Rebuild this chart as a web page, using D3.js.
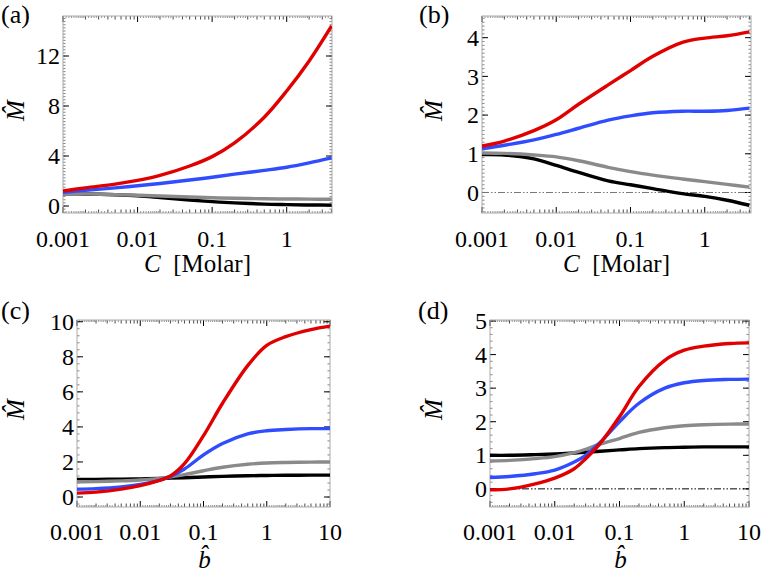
<!DOCTYPE html>
<html>
<head>
<meta charset="utf-8">
<script src="https://cdn.jsdelivr.net/npm/d3@7"></script>
<style>
  body { margin: 0; background: #fff; }
  svg { display: block; }
</style>
</head>
<body>
<div id="chart"></div>
<script>
// x values (log scale)
const xMolar = [0.001, 0.002, 0.005, 0.01, 0.02, 0.05, 0.1, 0.2, 0.5, 1, 2, 4];
const xB = [0.001, 0.002, 0.005, 0.01, 0.02, 0.03, 0.05, 0.1, 0.2, 0.5, 1, 2, 5, 10];

// panel (a)
const aRed   = [1.2, 1.45, 1.75, 2.05, 2.45, 3.2, 3.95, 5.05, 7.1, 9.2, 11.6, 14.4];
const aBlue  = [1.1, 1.25, 1.45, 1.62, 1.8, 2.08, 2.3, 2.55, 2.85, 3.1, 3.45, 3.85];
const aGray  = [1.0, 0.97, 0.91, 0.86, 0.8, 0.72, 0.66, 0.62, 0.58, 0.56, 0.55, 0.54];
const aBlack = [0.98, 0.96, 0.9, 0.82, 0.68, 0.48, 0.35, 0.25, 0.15, 0.11, 0.08, 0.07];

// panel (b)
const bRed   = [1.2, 1.33, 1.6, 1.88, 2.28, 2.78, 3.15, 3.52, 3.88, 3.99, 4.05, 4.15];
const bBlue  = [1.13, 1.22, 1.36, 1.5, 1.66, 1.87, 1.98, 2.06, 2.1, 2.1, 2.12, 2.18];
const bGray  = [1.02, 1.01, 0.97, 0.92, 0.82, 0.65, 0.54, 0.45, 0.35, 0.28, 0.21, 0.14];
const bBlack = [0.98, 0.97, 0.87, 0.7, 0.52, 0.3, 0.2, 0.1, -0.03, -0.1, -0.2, -0.33];

// panel (c)
const cRed   = [0.22, 0.28, 0.45, 0.65, 0.95, 1.2, 1.9, 3.5, 5.35, 7.5, 8.65, 9.15, 9.55, 9.75];
const cBlue  = [0.45, 0.48, 0.58, 0.72, 0.95, 1.18, 1.6, 2.4, 3.05, 3.6, 3.78, 3.85, 3.9, 3.9];
const cGray  = [0.87, 0.88, 0.92, 0.97, 1.06, 1.15, 1.28, 1.5, 1.7, 1.87, 1.94, 1.97, 1.99, 2.0];
const cBlack = [1.0, 1.0, 1.02, 1.03, 1.06, 1.08, 1.1, 1.14, 1.18, 1.21, 1.23, 1.24, 1.25, 1.25];

// panel (d)
const dRed   = [-0.03, 0.0, 0.15, 0.32, 0.6, 0.9, 1.35, 2.15, 3.05, 3.83, 4.13, 4.25, 4.33, 4.35];
const dBlue  = [0.34, 0.37, 0.45, 0.56, 0.8, 1.0, 1.38, 2.0, 2.55, 3.0, 3.16, 3.23, 3.26, 3.27];
const dGray  = [0.83, 0.85, 0.9, 0.96, 1.08, 1.18, 1.33, 1.5, 1.68, 1.82, 1.88, 1.91, 1.93, 1.93];
const dBlack = [1.0, 1.0, 1.02, 1.04, 1.07, 1.09, 1.12, 1.16, 1.2, 1.23, 1.24, 1.25, 1.25, 1.25];

// ticks
const xTicksMolar = [0.001, 0.01, 0.1, 1];
const xTicksB = [0.001, 0.01, 0.1, 1, 10];
const xTickLabels = ["0.001", "0.01", "0.1", "1", "10"];
const yTicksA = [0, 4, 8, 12];
const yTicksB = [0, 1, 2, 3, 4];
const yTicksC = [0, 2, 4, 6, 8, 10];
const yTicksD = [0, 1, 2, 3, 4, 5];

const colors = { black: "#000000", gray: "#8a8a8a", blue: "#2f4cff", red: "#e00000" };

const W = 762, H = 580;
const svg = d3.select("#chart").append("svg").attr("width", W).attr("height", H)
  .style("font-family", "\"Liberation Serif\"");

const panels = [
  { tag: "(a)", box: [63, 16, 332, 213], xd: [0.001, 4.05], yd: [-0.56, 15.2], x: xMolar,
    series: [aBlack, aGray, aBlue, aRed], xt: xTicksMolar, yt: yTicksA, ym: 0.25,
    zero: null, xlab: "C", tagPos: [1, 23], ytPos: 17 },
  { tag: "(b)", box: [482, 16, 751, 213], xd: [0.001, 4.2], yd: [-0.53, 4.56], x: xMolar,
    series: [bBlack, bGray, bBlue, bRed], xt: xTicksMolar, yt: yTicksB, ym: 0.1,
    zero: "#777", xlab: "C", tagPos: [419, 23], ytPos: 435 },
  { tag: "(c)", box: [77, 320, 330, 507], xd: [0.001, 10], yd: [-0.57, 10.1], x: xB,
    series: [cBlack, cGray, cBlue, cRed], xt: xTicksB, yt: yTicksC, ym: 0.4,
    zero: null, xlab: "b", tagPos: [1, 319], ytPos: 17 },
  { tag: "(d)", box: [490, 320, 749, 507], xd: [0.001, 10], yd: [-0.54, 5.03], x: xB,
    series: [dBlack, dGray, dBlue, dRed], xt: xTicksB, yt: yTicksD, ym: 0.2,
    zero: "#000", xlab: "b", tagPos: [418, 319], ytPos: 435 }
];
const seriesColors = [colors.black, colors.gray, colors.blue, colors.red];

panels.forEach((p, i) => {
  const [x0, y0, x1, y1] = p.box;
  const x = d3.scaleLog().domain(p.xd).range([x0, x1]);
  const y = d3.scaleLinear().domain(p.yd).range([y1, y0]);
  const g = svg.append("g");

  const clipId = "clip" + i;
  g.append("clipPath").attr("id", clipId)
    .append("rect").attr("x", x0).attr("y", y0).attr("width", x1 - x0).attr("height", y1 - y0);

  // minor / major ticks on the log axis (bottom and top)
  const minor = [], tiny = [];
  for (let e = -3; e <= 1; e++) {
    const base = Math.pow(10, e);
    for (let k = 2; k <= 9; k++) minor.push(k * base);
    [1.1, 1.2, 1.3, 1.4, 1.5, 1.6, 1.7, 1.8, 1.9, 2.2, 2.4, 2.6, 2.8, 3.3, 3.6, 4.5]
      .forEach(k => tiny.push(k * base));
  }
  const inX = v => v >= p.xd[0] * 0.999 && v <= p.xd[1] * 1.001;
  const tickG = g.append("g");
  [[y1, -1], [y0, 1]].forEach(([yy, dir]) => {
    tickG.selectAll(null).data(tiny.filter(inX)).join("line")
      .attr("x1", d => x(d)).attr("x2", d => x(d))
      .attr("y1", yy).attr("y2", yy + dir * 2)
      .attr("stroke", "#777").attr("stroke-width", 0.8);
    tickG.selectAll(null).data(minor.filter(inX)).join("line")
      .attr("x1", d => x(d)).attr("x2", d => x(d))
      .attr("y1", yy).attr("y2", yy + dir * 3.5)
      .attr("stroke", "#333").attr("stroke-width", 0.9);
    tickG.selectAll(null).data(p.xt).join("line")
      .attr("x1", d => x(d)).attr("x2", d => x(d))
      .attr("y1", yy).attr("y2", yy + dir * 6)
      .attr("stroke", "#000").attr("stroke-width", 1);
  });

  // y ticks on left and right
  const ym = d3.range(Math.ceil(p.yd[0] / p.ym) * p.ym, p.yd[1], p.ym);
  [[x0, 1], [x1, -1]].forEach(([xx, dir]) => {
    tickG.selectAll(null).data(ym).join("line")
      .attr("x1", xx).attr("x2", xx + dir * 2.5)
      .attr("y1", d => y(d)).attr("y2", d => y(d))
      .attr("stroke", "#666").attr("stroke-width", 0.8);
    tickG.selectAll(null).data(p.yt).join("line")
      .attr("x1", xx).attr("x2", xx + dir * 6)
      .attr("y1", d => y(d)).attr("y2", d => y(d))
      .attr("stroke", "#000").attr("stroke-width", 1);
  });

  // frame
  g.append("rect").attr("x", x0).attr("y", y0).attr("width", x1 - x0).attr("height", y1 - y0)
    .attr("fill", "none").attr("stroke", "#aaa").attr("stroke-width", 1);

  // zero reference line
  if (p.zero) {
    g.append("line").attr("x1", x0).attr("x2", x1).attr("y1", y(0)).attr("y2", y(0))
      .attr("stroke", p.zero).attr("stroke-width", 1)
      .attr("stroke-dasharray", "7,2,1.5,2,1.5,2");
  }

  // curves
  const line = d3.line().x((d, j) => x(p.x[j])).y(d => y(d)).curve(d3.curveCatmullRom.alpha(0.5));
  g.append("g").attr("clip-path", `url(#${clipId})`)
    .selectAll("path").data(p.series).join("path")
    .attr("d", line)
    .attr("fill", "none")
    .attr("stroke", (d, j) => seriesColors[j])
    .attr("stroke-width", 3.4)
    .attr("stroke-linecap", "butt");

  // tick labels
  g.append("g").selectAll("text").data(p.xt).join("text")
    .attr("x", d => x(d)).attr("y", y1 + 34 - (i >= 2 ? 1 : 0))
    .attr("text-anchor", "middle").style("font-size", "24px")
    .text((d, j) => xTickLabels[j]);
  g.append("g").selectAll("text").data(p.yt).join("text")
    .attr("x", x0 - 3).attr("y", d => y(d)).attr("dy", "0.34em")
    .attr("text-anchor", "end").style("font-size", "24px")
    .text(d => d);

  // panel tag
  g.append("text").attr("x", p.tagPos[0]).attr("y", p.tagPos[1])
    .style("font-size", "26px").text(p.tag);

  // y axis title: M with hat, rotated
  const cy = (y0 + y1) / 2 - 4;
  g.append("text")
    .attr("transform", `translate(${p.ytPos + 7},${cy}) rotate(-90)`)
    .attr("text-anchor", "middle")
    .style("font-size", "25px").style("font-style", "italic")
    .text("M\u0302");

  // x axis title
  const cx = (x0 + x1) / 2;
  if (p.xlab === "C") {
    const t = g.append("text").attr("x", cx).attr("y", y1 + 59)
      .attr("text-anchor", "middle").style("font-size", "25px");
    t.append("tspan").style("font-style", "italic").text("C");
    t.append("tspan").text("\u2002[Molar]");
  } else {
    g.append("text").attr("x", cx + 1).attr("y", y1 + 61).attr("text-anchor", "middle")
      .style("font-size", "25px").style("font-style", "italic").text("b\u0302");
  }
});
</script>
</body>
</html>
